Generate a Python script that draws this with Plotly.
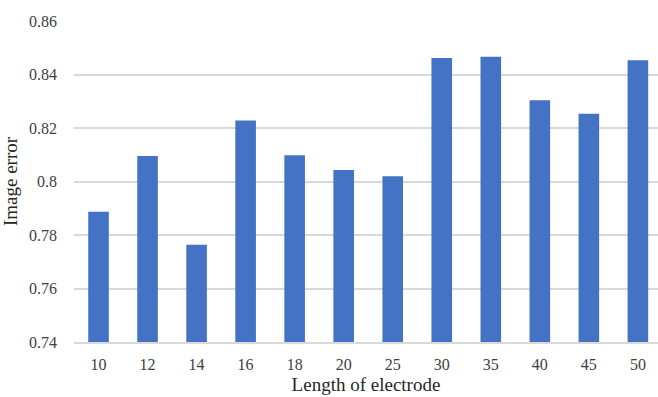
import plotly.graph_objects as go

categories = ["10", "12", "14", "16", "18", "20", "25", "30", "35", "40", "45", "50"]
values = [0.7887, 0.8095, 0.7764, 0.8228, 0.8098, 0.8043, 0.8020, 0.8462, 0.8466, 0.8304, 0.8253, 0.8453]
y_ticks = [0.74, 0.76, 0.78, 0.80, 0.82, 0.84, 0.86]
y_tick_labels = ["0.74", "0.76", "0.78", "0.8", "0.82", "0.84", "0.86"]

font_family = "Liberation Serif"

fig = go.Figure(go.Bar(
    x=categories, y=values,
    marker=dict(color="#4472C4", line=dict(width=0)),
    width=0.42,
))

fig.update_layout(
    width=658, height=397,
    margin=dict(l=73.5, r=0, t=20.7, b=54.7),
    paper_bgcolor="white", plot_bgcolor="white",
    font=dict(family=font_family, size=16, color="#404040"),
    showlegend=False,
    xaxis=dict(
        type="category",
        range=[-0.5, 11.41],
        showgrid=False,
        showline=True, linecolor="#d9d9d9", linewidth=1.5,
        ticks="", ticklabelstandoff=7,
        tickfont=dict(family=font_family, size=16, color="#404040"),
        title=dict(text="Length of electrode", font=dict(family=font_family, size=19, color="#262626"), standoff=6),
    ),
    yaxis=dict(
        range=[0.74, 0.86],
        tickvals=y_ticks, ticktext=y_tick_labels,
        showgrid=True, gridcolor="#d9d9d9", gridwidth=1.5,
        zeroline=False, showline=False,
        ticks="", ticklabelstandoff=16,
        tickfont=dict(family=font_family, size=16, color="#404040"),
        title=dict(text="Image error", font=dict(family=font_family, size=19, color="#262626"), standoff=6),
    ),
)

fig.write_html("out.html")
